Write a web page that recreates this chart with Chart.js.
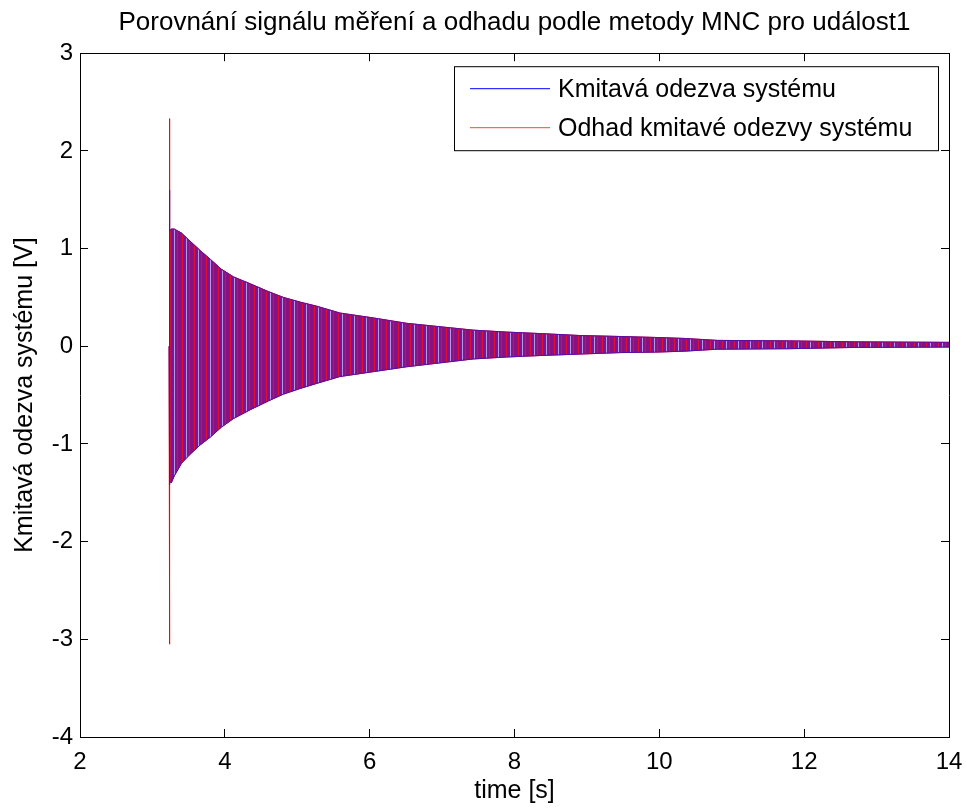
<!DOCTYPE html>
<html>
<head>
<meta charset="utf-8">
<script src="https://cdn.jsdelivr.net/npm/chart.js@4.4.1/dist/chart.umd.min.js"></script>
<style>
  html, body { margin: 0; padding: 0; background: #fff; }
  #wrap { width: 966px; height: 810px; }
</style>
</head>
<body>
<div id="wrap"><canvas id="odezva" width="966" height="810"></canvas></div>
<script>
// obálka kmitavé odezvy (horní / dolní špičky) v čase [s]
const seriesNames = ['Kmitavá odezva systému', 'Odhad kmitavé odezvy systému'];
const envTime = [3.23, 3.235, 3.24, 3.26, 3.3, 3.4, 3.5, 3.66, 3.8, 3.95, 4.12, 4.35, 4.6, 4.81, 5.05, 5.27, 5.59,
                 6.05, 6.51, 6.97, 7.43, 7.89, 8.35, 8.9, 9.46, 9.95, 10.35, 10.8, 11.8, 12.7, 14];
const measuredUpper = [0, 1.6, 1.18, 1.2, 1.2, 1.16, 1.09, 0.98, 0.89, 0.79, 0.71, 0.64, 0.56, 0.5, 0.45, 0.41, 0.34,
                       0.29, 0.235, 0.2, 0.165, 0.145, 0.13, 0.11, 0.1, 0.09, 0.08, 0.06, 0.055, 0.045, 0.04];
const measuredLower = [0, -1.42, -1.38, -1.4, -1.33, -1.2, -1.12, -1.01, -0.93, -0.83, -0.74, -0.65, -0.56, -0.49, -0.43, -0.38, -0.31,
                       -0.26, -0.21, -0.17, -0.13, -0.11, -0.095, -0.08, -0.065, -0.06, -0.05, -0.03, -0.025, -0.012, -0.008];
const estimateUpper = [0, 2.33, 1.18, 1.2, 1.2, 1.16, 1.09, 0.98, 0.89, 0.79, 0.71, 0.64, 0.56, 0.5, 0.45, 0.41, 0.34,
                       0.29, 0.235, 0.2, 0.165, 0.145, 0.13, 0.11, 0.1, 0.09, 0.08, 0.06, 0.055, 0.045, 0.04];
const estimateLower = [0, -3.05, -1.38, -1.4, -1.33, -1.2, -1.12, -1.01, -0.93, -0.83, -0.74, -0.65, -0.56, -0.49, -0.43, -0.38, -0.31,
                       -0.26, -0.21, -0.17, -0.13, -0.11, -0.095, -0.08, -0.065, -0.06, -0.05, -0.03, -0.025, -0.012, -0.008];
const xTicks = [2, 4, 6, 8, 10, 12, 14];
const yTicks = [-4, -3, -2, -1, 0, 1, 2, 3];

const FONT = "'Liberation Sans', Arial, Helvetica, sans-serif";
Chart.defaults.font.family = FONT;
Chart.defaults.color = '#000';

const canvas = document.getElementById('odezva');
const ctx = canvas.getContext('2d');

// husté kmity obou signálů splývají do fialového pásu se světlejšími a červenými proužky
function stripes(cols) {
    const tile = document.createElement('canvas');
    tile.width = cols.length;
    tile.height = 1;
    const t = tile.getContext('2d');
    cols.forEach((c, i) => {
        t.fillStyle = c;
        t.fillRect(i, 0, 1, 1);
    });
    return ctx.createPattern(tile, 'repeat');
}
const bandFill = stripes(['#8a1282', '#8a1282', '#e01030', '#8a1282', '#7a12a0', '#8a1282',
                          '#b09ae0', '#8a1282', '#8a1282', '#d01040', '#8a1282', '#7a12a0']);

const toPoints = ys => envTime.map((t, i) => ({ x: t, y: ys[i] }));

const setTicks = list => scale => { scale.ticks = list.map(v => ({ value: v })); };

const tickGrid = { display: true, drawOnChartArea: false, drawTicks: true, tickLength: -8, color: '#000', lineWidth: 1 };
const axisBorder = { display: true, color: '#000', width: 1 };

// legenda uvnitř grafu (rámeček vpravo nahoře)
const legendBox = {
    id: 'legendBox',
    afterDraw(chart) {
        const c = chart.ctx;
        const area = chart.chartArea;
        const right = area.right - 11, top = area.top + 13;
        const w = 484, h = 84, left = right - w;
        c.save();
        c.fillStyle = '#fff';
        c.fillRect(left, top, w, h);
        c.strokeStyle = '#000';
        c.lineWidth = 1;
        c.strokeRect(left + 0.5, top + 0.5, w, h);
        const rows = [
            { text: seriesNames[0], color: '#0000ff', y: top + 22.5 },
            { text: seriesNames[1], color: '#ff4040', y: top + 61.5 }
        ];
        c.font = '25px ' + FONT;
        c.textBaseline = 'middle';
        rows.forEach(r => {
            c.strokeStyle = r.color;
            c.beginPath();
            c.moveTo(left + 16, r.y);
            c.lineTo(left + 96, r.y);
            c.stroke();
            c.fillStyle = '#000';
            c.fillText(r.text, left + 104, r.y + 1);
        });
        c.restore();
    }
};

new Chart(ctx, {
    type: 'line',
    data: {
        datasets: [
            {
                label: seriesNames[0],
                data: toPoints(measuredUpper),
                borderColor: '#5010b0',
                borderWidth: 1,
                fill: false,
                pointRadius: 0,
                tension: 0
            },
            {
                label: seriesNames[0] + ' (min)',
                data: toPoints(measuredLower),
                borderColor: '#5010b0',
                borderWidth: 1,
                fill: false,
                pointRadius: 0,
                tension: 0
            },
            {
                label: seriesNames[1],
                data: toPoints(estimateUpper),
                borderColor: '#ff0000',
                backgroundColor: bandFill,
                borderWidth: 1,
                fill: '+1',
                pointRadius: 0,
                tension: 0
            },
            {
                label: seriesNames[1] + ' (min)',
                data: toPoints(estimateLower),
                borderColor: '#ff0000',
                borderWidth: 1,
                fill: false,
                pointRadius: 0,
                tension: 0
            }
        ]
    },
    options: {
        responsive: false,
        animation: false,
        devicePixelRatio: 1,
        layout: { padding: 0 },
        scales: {
            x: {
                type: 'linear', position: 'bottom', min: 2, max: 14,
                afterBuildTicks: setTicks(xTicks),
                afterFit: s => { s.height = 73; s.paddingLeft = 0; s.paddingRight = 0; },
                grid: tickGrid, border: axisBorder,
                ticks: { padding: 19, font: { size: 24 }, maxRotation: 0, autoSkip: false },
                title: { display: true, text: 'time [s]', font: { size: 25 }, padding: { top: 0, bottom: 4 } }
            },
            x2: {
                type: 'linear', position: 'top', min: 2, max: 14,
                afterBuildTicks: setTicks(xTicks),
                afterFit: s => { s.height = 0; s.paddingLeft = 0; s.paddingRight = 0; },
                grid: tickGrid, border: axisBorder,
                ticks: { display: false }
            },
            y: {
                type: 'linear', position: 'left', min: -4, max: 3,
                afterBuildTicks: setTicks(yTicks),
                afterFit: s => { s.width = 80; },
                grid: tickGrid, border: axisBorder,
                ticks: { padding: 15, font: { size: 24 }, autoSkip: false },
                title: { display: true, text: 'Kmitavá odezva systému [V]', font: { size: 25 }, padding: { top: 10, bottom: 0 } }
            },
            y2: {
                type: 'linear', position: 'right', min: -4, max: 3,
                afterBuildTicks: setTicks(yTicks),
                afterFit: s => { s.width = 17; },
                grid: tickGrid, border: axisBorder,
                ticks: { display: false }
            }
        },
        plugins: {
            legend: { display: false },
            tooltip: { enabled: false },
            title: {
                display: true,
                text: 'Porovnání signálu měření a odhadu podle metody MNC pro událost1',
                font: { size: 26, weight: 'normal' },
                padding: { top: 7, bottom: 15 },
                fullSize: false
            }
        }
    },
    plugins: [legendBox]
});
</script>
</body>
</html>
